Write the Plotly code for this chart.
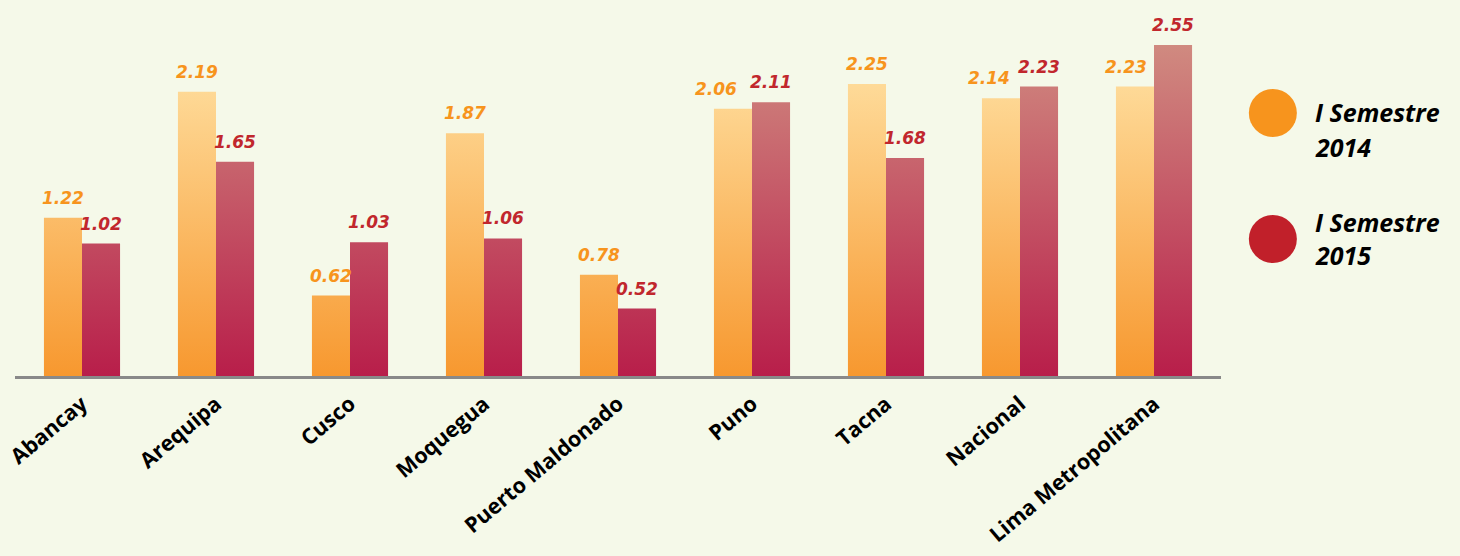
import plotly.graph_objects as go

categories = ["Abancay", "Arequipa", "Cusco", "Moquegua", "Puerto Maldonado",
              "Puno", "Tacna", "Nacional", "Lima Metropolitana"]
values_2014 = [1.22, 2.19, 0.62, 1.87, 0.78, 2.06, 2.25, 2.14, 2.23]
values_2015 = [1.02, 1.65, 1.03, 1.06, 0.52, 2.11, 1.68, 2.23, 2.55]
series_names = ["I Semestre", "I Semestre"]
series_years = ["2014", "2015"]

BG = "#f5f9e9"
ORANGE = "#f7941d"
RED = "#c1272d"
BAR_W = 0.284
FONT = "Open Sans"
LABEL_FONT = "DejaVu Sans"
# horizontal nudges (px) of overlapping orange labels, as in the original
LABEL_XSHIFT_2014 = {5: -17, 7: -12, 8: -9}

fig = go.Figure()


def bar_polys(vals, offset):
    xs, ys = [], []
    for i, v in enumerate(vals):
        x0 = i + offset
        x1 = x0 + BAR_W
        xs += [x0, x1, x1, x0, x0, None]
        ys += [0, 0, v, v, 0, None]
    return xs, ys


top = max(values_2014 + values_2015)
specs = [
    (values_2014, -BAR_W, [[0, "#f7982f"], [1, "#ffe3a6"]], ORANGE, LABEL_XSHIFT_2014),
    (values_2015, 0.0, [[0, "#b81e4a"], [1, "#d08a80"]], RED, {}),
]
for vals, off, cs, col, shifts in specs:
    xs, ys = bar_polys(vals, off)
    fig.add_trace(go.Scatter(
        x=xs, y=ys, mode="none", fill="toself",
        fillgradient=dict(type="vertical", colorscale=cs, start=0, stop=top),
        showlegend=False, hoverinfo="skip",
    ))
    for i, v in enumerate(vals):
        fig.add_annotation(
            x=i + off + BAR_W / 2, y=v, xref="x", yref="y",
            text=f"{v:.2f}", showarrow=False, yanchor="bottom", yshift=8,
            xshift=shifts.get(i, 0),
            font=dict(family=LABEL_FONT, size=17, color=col, weight="bold", style="italic"),
        )

# legend (manual, large circles)
legend_items = [
    (ORANGE, 0.6995, 0.7021, 0.609),
    ("#c1202a", 0.3644, 0.4096, 0.3218),
]
for (col, yc, y1, y2), name, year in zip(legend_items, series_names, series_years):
    fig.add_shape(
        type="circle", xref="paper", yref="paper",
        xsizemode="pixel", ysizemode="pixel", xanchor=1.043, yanchor=yc,
        x0=-24, x1=24, y0=-24, y1=24,
        fillcolor=col, line=dict(width=0),
    )
    for txt, yy in ((name, y1), (year, y2)):
        fig.add_annotation(
            x=1.0765, y=yy, xref="paper", yref="paper",
            text=txt, showarrow=False, xanchor="left", yanchor="middle",
            font=dict(family=FONT, size=25, color="black", weight="bold", style="italic"),
        )

fig.update_layout(
    width=1460, height=556,
    paper_bgcolor=BG, plot_bgcolor=BG,
    margin=dict(l=15, r=239, t=0, b=180, autoexpand=False),
    showlegend=False,
    xaxis=dict(
        range=[-0.5, 8.5], tickmode="array", tickvals=list(range(len(categories))),
        ticktext=categories, tickangle=-40, showgrid=False, zeroline=False,
        showline=True, linecolor="#898989", linewidth=3, ticks="",
        ticklabelstandoff=4, automargin=False, ticklabeloverflow="allow",
        tickfont=dict(family=FONT, size=21.5, color="black", weight="bold"),
    ),
    yaxis=dict(range=[0, 2.897], visible=False, showgrid=False, zeroline=False,
               automargin=False),
)

fig.write_html(
    "out.html",
    config={"displayModeBar": False},
    post_script="document.body.style.margin='0';document.body.style.background='%s';" % BG,
)
